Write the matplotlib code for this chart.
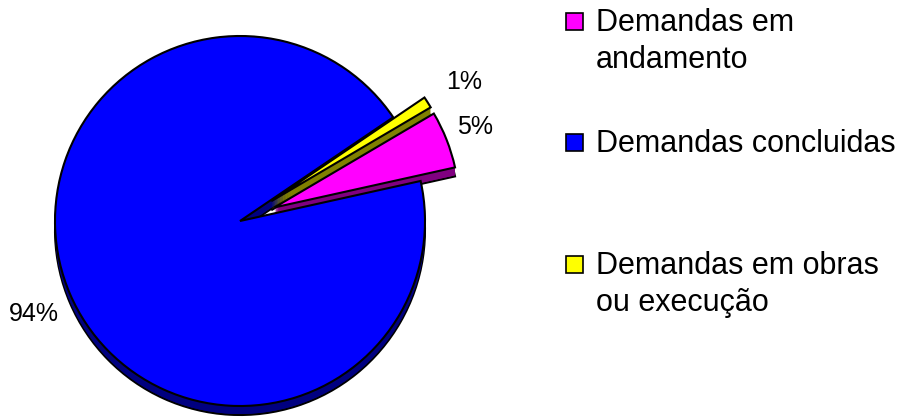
import matplotlib.pyplot as plt
from matplotlib.patches import Rectangle

plt.rcParams['font.family'] = ['Liberation Sans', 'DejaVu Sans']

labels = ["Demandas em\nandamento", "Demandas concluidas", "Demandas em obras\nou execução"]
values = [5, 94, 1]
colors = ["#FF00FF", "#0000FF", "#FFFF00"]
side_colors = ["#800080", "#000080", "#808000"]

fig = plt.figure(figsize=(9.07, 4.17), dpi=100)
ax = fig.add_axes([0, 0, 1, 1])

cx, cy, r = 240, 196, 185
depth = 9
start = 30.5
# pie explode is in data units, so scale it by the radius
explode = [0.2 * r, 0.0, 0.2 * r]

# side of the 3d pie: stack darker copies below the top face
for k in range(depth, 0, -1):
    ax.pie(values, colors=side_colors, explode=explode, startangle=start,
           counterclock=False, center=(cx, cy - k), radius=r,
           wedgeprops=dict(edgecolor="black" if k == depth else "none",
                           linewidth=1.5), frame=True)

# top face
wedges, _ = ax.pie(values, colors=colors, explode=explode, startangle=start,
                   counterclock=False, center=(cx, cy), radius=r,
                   wedgeprops=dict(edgecolor="black", linewidth=1.5), frame=True)
ax.set_xlim(0, 907)
ax.set_ylim(0, 417)
ax.set_aspect("equal")
ax.axis("off")

# percentage labels
pct_pos = [(475, 290), (34, 103), (464, 335)]
for v, (x, y) in zip(values, pct_pos):
    ax.text(x, y, f"{v}%", fontsize=18, ha="center", va="center")

# legend
legend_y = [396, 275, 153]
for lab, col, y in zip(labels, colors, legend_y):
    ax.add_patch(Rectangle((566, y - 9), 17, 17, facecolor=col,
                           edgecolor="black", linewidth=1.2))
    ax.text(596, y + 13, lab, fontsize=22, ha="left", va="top",
            linespacing=1.32)

fig.savefig("out.png", dpi=100)
